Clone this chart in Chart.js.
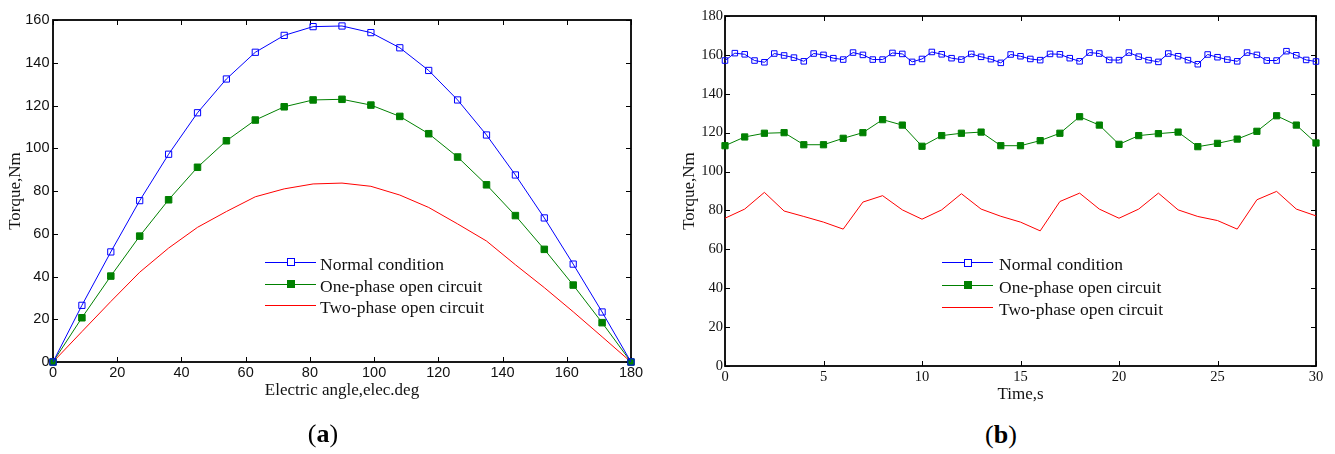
<!DOCTYPE html>
<html>
<head>
<meta charset="utf-8">
<script src="https://cdn.jsdelivr.net/npm/chart.js@4.4.1/dist/chart.umd.min.js"></script>
<style>
  body { margin: 0; background: #fff; }
  #wrap { position: relative; width: 1335px; height: 454px; overflow: hidden; }
  canvas { position: absolute; top: 0; }
  .leg { position: absolute; font: 17.5px "Liberation Serif", serif; color: #111; white-space: nowrap; }
  .leg .ln { position: absolute; height: 1px; width: 51px; }
  .leg .mk { position: absolute; width: 7px; height: 7px; box-sizing: border-box; }
  .leg .tx { position: absolute; line-height: 20px; }
  .cap { position: absolute; font: 26px "Liberation Serif", serif; color: #000; transform: translateX(-50%); }
</style>
</head>
<body>
<div id="wrap">
  <canvas id="chartA" width="660" height="420" style="left:0"></canvas>
  <canvas id="chartB" width="675" height="420" style="left:660px"></canvas>
  <div id="legA"></div>
  <div id="legB"></div>
  <div class="cap" style="left:323px; top:419px">(<b>a</b>)</div>
  <div class="cap" style="left:1001px; top:420px">(<b>b</b>)</div>
</div>
<script>
// ===== (a) torque vs electric angle =====
const angleDeg = [0, 9, 18, 27, 36, 45, 54, 63, 72, 81, 90, 99, 108, 117, 126, 135, 144, 153, 162, 171, 180]
const normalA = [0, 26.5, 51.5, 75.5, 97.2, 116.6, 132.4, 144.9, 152.8, 156.9, 157.2, 154.1, 147, 136.4, 122.6, 106.2, 87.5, 67.4, 45.8, 23.4, 0]
const onePhaseA = [0, 20.7, 40.2, 58.9, 75.9, 91.1, 103.5, 113.2, 119.4, 122.6, 122.9, 120.2, 114.9, 106.8, 95.9, 82.9, 68.5, 52.7, 36, 18.4, 0]
const twoPhaseA = [0, 14.2, 28.3, 42, 53.3, 63, 70.4, 77.3, 81, 83.3, 83.7, 82.2, 78.1, 72.3, 64.6, 56.6, 45.5, 34.8, 23.5, 11.8, 0]

// ===== (b) torque vs time =====
const timeFine = [0, 0.5, 1, 1.5, 2, 2.5, 3, 3.5, 4, 4.5, 5, 5.5, 6, 6.5, 7, 7.5, 8, 8.5, 9, 9.5, 10, 10.5, 11, 11.5, 12, 12.5, 13, 13.5, 14, 14.5, 15,
  15.5, 16, 16.5, 17, 17.5, 18, 18.5, 19, 19.5, 20, 20.5, 21, 21.5, 22, 22.5, 23, 23.5, 24, 24.5, 25, 25.5, 26, 26.5, 27, 27.5, 28, 28.5, 29, 29.5, 30]
const timeSec = [0, 1, 2, 3, 4, 5, 6, 7, 8, 9, 10, 11, 12, 13, 14, 15, 16, 17, 18, 19, 20, 21, 22, 23, 24, 25, 26, 27, 28, 29, 30]
const normalB = [157.1, 160.9, 160.3, 157.1, 156.2, 160.7, 159.7, 158.6, 156.7, 160.7, 160, 158.3, 157.6, 161.2, 160, 157.6, 157.6, 161, 160.5, 156.4,
  157.9, 161.5, 160.3, 158.3, 157.6, 160.5, 159, 157.8, 155.9, 160.2, 159.3, 157.9, 157.3, 160.5, 160.3, 158.3, 156.7, 161.2, 160.7, 157.4,
  157.3, 161.2, 159.1, 157.3, 156.4, 160.7, 159.3, 157.3, 155.2, 160.2, 158.8, 157.6, 156.7, 161.2, 160, 157.1, 157.1, 161.9, 159.8, 157.4, 156.6]
const onePhaseB = [113.3, 117.8, 119.7, 120, 113.8, 113.8, 117.1, 120, 126.7, 123.9, 113, 118.5, 119.7, 120.3, 113.3, 113.3,
  115.9, 119.7, 128.2, 123.9, 114, 118.5, 119.5, 120.3, 112.8, 114.5, 116.7, 120.7, 128.7, 123.9, 114.7]
const twoPhaseB = [76, 80.7, 89.3, 79.7, 76.9, 74, 70.4, 84.3, 87.6, 80.3, 75.5, 80.3, 88.6, 80.7, 77, 74,
  69.5, 84.6, 88.9, 80.7, 76, 80.7, 88.9, 80.3, 76.9, 74.8, 70.4, 85.5, 89.8, 80.7, 77.2]

const seriesNames = ['Normal condition', 'One-phase open circuit', 'Two-phase open circuit']
const colors = ['#0000ff', '#008000', '#ff0000']

const pts = (xs, ys) => xs.map((x, i) => ({ x, y: ys[i] }))

// box + inward ticks on all 4 sides
const boxTicks = {
  id: 'boxTicks',
  beforeDatasetsDraw(chart) {
    const { ctx, chartArea: a, scales: { x, y } } = chart
    ctx.save()
    ctx.strokeStyle = '#000'
    ctx.lineWidth = 1
    ctx.beginPath()
    x.ticks.forEach(t => {
      const px = Math.round(x.getPixelForValue(t.value)) + 0.5
      ctx.moveTo(px, a.bottom); ctx.lineTo(px, a.bottom - 5)
      ctx.moveTo(px, a.top); ctx.lineTo(px, a.top + 5)
    })
    y.ticks.forEach(t => {
      const py = Math.round(y.getPixelForValue(t.value)) + 0.5
      ctx.moveTo(a.left, py); ctx.lineTo(a.left + 5, py)
      ctx.moveTo(a.right, py); ctx.lineTo(a.right - 5, py)
    })
    ctx.stroke()
    ctx.lineWidth = 1.8
    ctx.strokeRect(a.left, a.top, a.right - a.left, a.bottom - a.top)
    ctx.restore()
  }
}

function lineSet(i, data, marker, r) {
  return {
    label: seriesNames[i],
    data,
    borderColor: colors[i],
    backgroundColor: marker === 'filled' ? colors[i] : 'rgba(0,0,0,0)',
    borderWidth: 1,
    pointStyle: 'rect',
    pointRadius: marker ? r : 0,
    pointBorderWidth: 1,
    pointBorderColor: colors[i],
    pointBackgroundColor: marker === 'filled' ? colors[i] : 'rgba(0,0,0,0)',
    tension: 0,
    clip: false
  }
}

function makeChart(id, cfg) {
  const ctx = document.getElementById(id).getContext('2d')
  return new Chart(ctx, {
    type: 'line',
    data: { datasets: cfg.datasets },
    options: {
      responsive: false,
      animation: false,
      events: [],
      layout: { padding: cfg.padding },
      plugins: { legend: { display: false }, tooltip: { enabled: false } },
      scales: {
        x: {
          type: 'linear', min: cfg.xMin, max: cfg.xMax,
          grid: { display: false, drawTicks: false }, border: { display: false },
          ticks: { stepSize: cfg.xStep, color: '#111', padding: cfg.xPad, font: cfg.tickFont, maxRotation: 0 },
          title: { display: true, text: cfg.xTitle, color: '#111', font: cfg.titleFont, padding: { top: 0, bottom: cfg.xTitlePad } },
          afterFit: s => { s.height = cfg.xHeight }
        },
        y: {
          min: cfg.yMin, max: cfg.yMax,
          grid: { display: false, drawTicks: false }, border: { display: false },
          ticks: { stepSize: cfg.yStep, color: '#111', padding: cfg.yPad, font: cfg.tickFont },
          title: { display: true, text: 'Torque,Nm', color: '#111', font: cfg.titleFont, padding: { top: cfg.yTitlePad, bottom: 0 } },
          afterFit: s => { s.width = cfg.yWidth }
        }
      }
    },
    plugins: [boxTicks]
  })
}

makeChart('chartA', {
  datasets: [
    lineSet(0, pts(angleDeg, normalA), 'open', 4.4),
    lineSet(1, pts(angleDeg, onePhaseA), 'filled', 4.6),
    lineSet(2, pts(angleDeg, twoPhaseA), null, 0)
  ],
  padding: { top: 20, right: 29, left: 4, bottom: 0 },
  xMin: 0, xMax: 180, xStep: 20, yMin: 0, yMax: 160, yStep: 20,
  xTitle: 'Electric angle,elec.deg',
  tickFont: { family: '"Liberation Sans", Arial, sans-serif', size: 14.5 },
  titleFont: { family: '"Liberation Serif", serif', size: 17 },
  xPad: 2.5, yPad: 3.5, xHeight: 58, yWidth: 49, xTitlePad: 19, yTitlePad: 1
})

makeChart('chartB', {
  datasets: [
    lineSet(0, pts(timeFine, normalB), 'open', 3.9),
    lineSet(1, pts(timeSec, onePhaseB), 'filled', 4.4),
    lineSet(2, pts(timeSec, twoPhaseB), null, 0)
  ],
  padding: { top: 16, right: 19, left: 12, bottom: 0 },
  xMin: 0, xMax: 30, xStep: 5, yMin: 0, yMax: 180, yStep: 20,
  xTitle: 'Time,s',
  tickFont: { family: '"Liberation Serif", serif', size: 14.5 },
  titleFont: { family: '"Liberation Serif", serif', size: 17 },
  xPad: 2.5, yPad: 2, xHeight: 54, yWidth: 53, xTitlePad: 15, yTitlePad: 7.5
})

// legends (HTML, positioned inside each plot)
function buildLegend(elId, lineX, textX, rowsY) {
  const el = document.getElementById(elId)
  seriesNames.forEach((name, i) => {
    const row = document.createElement('div')
    row.className = 'leg'
    row.style.left = lineX + 'px'
    row.style.top = (rowsY[i] - 10) + 'px'
    let html = `<div class="ln" style="left:0;top:8px;background:${colors[i]}"></div>`
    if (i === 0) html += `<div class="mk" style="left:22px;top:4.5px;border:1px solid ${colors[i]};background:#fff;width:8px;height:8px"></div>`
    if (i === 1) html += `<div class="mk" style="left:22px;top:4.5px;background:${colors[i]};width:8px;height:8px"></div>`
    html += `<span class="tx" style="left:${textX - lineX}px;top:0">${name}</span>`
    row.innerHTML = html
    el.appendChild(row)
  })
}
buildLegend('legA', 265, 320, [263.5, 285.5, 307])
buildLegend('legB', 942, 999, [264, 286.5, 308.5])
</script>
</body>
</html>
